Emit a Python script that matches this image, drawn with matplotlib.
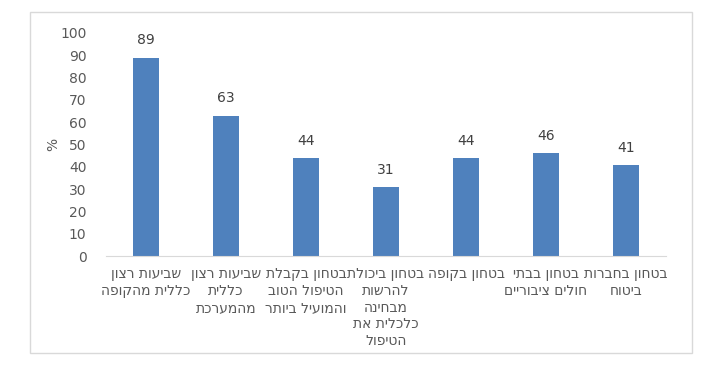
import matplotlib
matplotlib.use("Agg")
import matplotlib.pyplot as plt
from matplotlib.patches import Rectangle

categories = [
    "שביעות רצון\nכללית מהקופה",
    "שביעות רצון\nכללית\nמהמערכת",
    "בטחון בקבלת\nהטיפול הטוב\nוהמועיל ביותר",
    "בטחון ביכולת\nלהרשות\nמבחינה\nכלכלית את\nהטיפול",
    "בטחון בקופה",
    "בטחון בבתי\nחולים ציבוריים",
    "בטחון בחברות\nביטוח",
]
values = [89, 63, 44, 31, 44, 46, 41]


def rtl(s):
    # matplotlib has no bidi support: reverse each line for display
    return "\n".join(line[::-1] for line in s.split("\n"))


plt.rcParams["font.family"] = ["DejaVu Sans"]
gray = "#595959"

fig = plt.figure(figsize=(7.24, 3.79), dpi=100)
fig.patches.append(Rectangle((30 / 724, 1 - 353 / 379), 662 / 724, 341 / 379,
                             transform=fig.transFigure, fill=False,
                             edgecolor="#d9d9d9", linewidth=1))
ax = fig.add_axes([106 / 724, 1 - 256 / 379, 560 / 724, 223 / 379])

x = range(len(values))
bars = ax.bar(x, values, width=0.32, color="#4F81BD")
for b, v in zip(bars, values):
    ax.text(b.get_x() + b.get_width() / 2, v + 4.5, str(v), ha="center",
            va="bottom", fontsize=10, color="#404040")

ax.set_xlim(-0.5, len(values) - 0.5)
ax.set_ylim(0, 100)
ax.set_yticks(range(0, 101, 10))
ax.set_xticks(list(x))
ax.set_xticklabels([rtl(c) for c in categories], fontsize=9.7, color=gray,
                   multialignment="center", linespacing=1.25)
ax.tick_params(axis="both", length=0, colors=gray, labelsize=10)
ax.tick_params(axis="x", pad=8)
ax.tick_params(axis="y", pad=14)
ax.set_ylabel("%", color=gray, fontsize=10, labelpad=0)

for s in ["top", "right", "left"]:
    ax.spines[s].set_visible(False)
ax.spines["bottom"].set_color("#d9d9d9")

fig.savefig("out.png", dpi=100)
